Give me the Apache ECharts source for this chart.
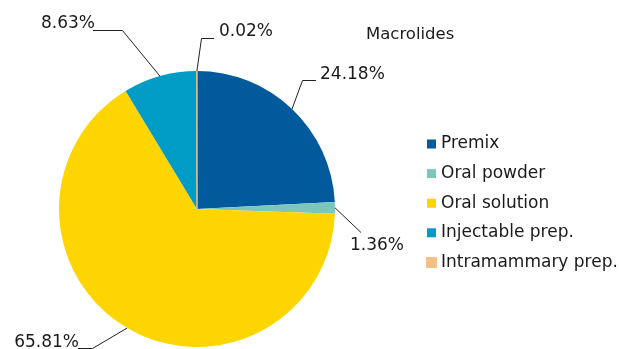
<!DOCTYPE html>
<html>
<head>
<meta charset="utf-8">
<script src="https://cdn.jsdelivr.net/npm/echarts@6/dist/echarts.min.js"></script>
<style>
  html, body { margin: 0; padding: 0; background: #ffffff; }
  #chart { width: 619px; height: 349px; }
</style>
</head>
<body>
<div id="chart"></div>
<script>
// Share of macrolide sales by pharmaceutical form (%)
const categories = ['Premix', 'Oral powder', 'Oral solution', 'Injectable prep.', 'Intramammary prep.'];
const shares = [24.18, 1.36, 65.81, 8.63, 0.02];
const chartTitle = 'Macrolides';

const palette = ['#005a9c', '#7cc7bd', '#ffd500', '#009cc6', '#f6bf85'];
const FONT = '"DejaVu Sans", Verdana, sans-serif';
const TEXT = '#1a1a1a';

// Where each percentage label sits and how its leader line bends
const labelSpots = [
  { x: 320, y: 75,  align: 'left',  elbow: [302.5, 80.5],  end: [316, 80.5] },
  { x: 350, y: 246, align: 'left',  elbow: [361, 232.5],   end: [361, 232.5] },
  { x: 79,  y: 343, align: 'right', elbow: [92.5, 348.5],  end: [78, 348.5] },
  { x: 95,  y: 24,  align: 'right', elbow: [122.5, 30.5],  end: [93, 30.5] },
  { x: 219, y: 32,  align: 'left',  elbow: [201.5, 38.5],  end: [214, 38.5] }
];

const chart = echarts.init(document.getElementById('chart'), null, { renderer: 'canvas' });

const pieData = categories.map((name, i) => {
  const item = { name: name, value: shares[i], itemStyle: { color: palette[i] } };
  if (i === 4) {
    // keep the hair-thin slice visible
    item.itemStyle.borderColor = palette[i];
    item.itemStyle.borderWidth = 1;
  }
  return item;
});

chart.setOption({
  animation: false,
  backgroundColor: '#ffffff',
  color: palette,
  title: {
    text: chartTitle,
    left: 366,
    top: 25,
    padding: 0,
    textStyle: { fontFamily: FONT, fontSize: 16.5, fontWeight: 'normal', color: TEXT, lineHeight: 20 }
  },
  legend: {
    orient: 'vertical',
    left: 426,
    top: 134,
    padding: 0,
    itemWidth: 9,
    itemHeight: 9,
    itemGap: 9.6,
    itemTextGap: 7,
    icon: 'rect',
    data: categories,
    selectedMode: false,
    textStyle: { fontFamily: FONT, fontSize: 17, color: TEXT, lineHeight: 20 }
  },
  series: [{
    type: 'pie',
    center: [197, 209],
    radius: 138,
    startAngle: 90,
    clockwise: true,
    avoidLabelOverlap: false,
    data: pieData,
    label: {
      show: true,
      position: 'outside',
      fontFamily: FONT,
      fontSize: 17,
      color: TEXT,
      formatter: p => p.value.toFixed(2) + '%'
    },
    labelLine: {
      show: true,
      length: 20,
      length2: 10,
      lineStyle: { color: '#222222', width: 1 }
    },
    labelLayout: function (params) {
      const s = labelSpots[params.dataIndex];
      const start = params.labelLinePoints ? params.labelLinePoints[0] : s.elbow;
      return {
        x: s.x,
        y: s.y,
        align: s.align,
        verticalAlign: 'middle',
        labelLinePoints: [start, s.elbow, s.end]
      };
    },
    emphasis: { disabled: true }
  }]
});
</script>
</body>
</html>
